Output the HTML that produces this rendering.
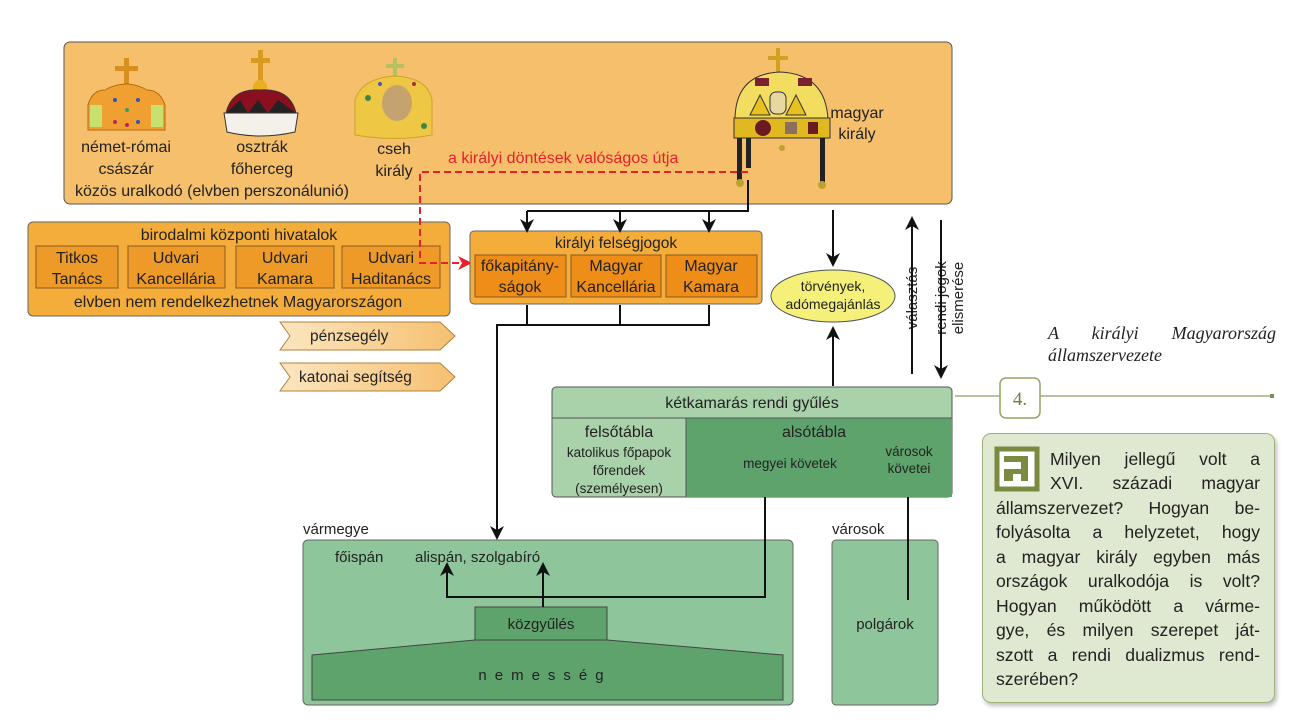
<!DOCTYPE html>
<html><head><meta charset="utf-8"><style>
html,body{margin:0;padding:0;background:#fff;}
body{width:1304px;height:724px;position:relative;overflow:hidden;font-family:"Liberation Sans",sans-serif;}
svg{position:absolute;left:0;top:0;}
.q{position:absolute;left:982px;top:433px;width:293px;height:270px;box-sizing:border-box;background:#dfe8d0;border:1.5px solid #9fb27a;border-radius:9px;box-shadow:2px 3px 4px rgba(0,0,0,0.25);}
.ln{position:absolute;left:996px;width:264px;font-size:17.6px;line-height:22px;color:#222;text-align:justify;text-align-last:justify;white-space:nowrap;}
.ln.i{left:1050px;width:210px;}
.ln.l{text-align-last:left;}
.cap{position:absolute;left:1048px;top:322px;width:228px;font-family:"Liberation Serif",serif;font-style:italic;font-size:18px;line-height:23px;color:#222;text-align:justify;text-align-last:justify;}
.cap2{position:absolute;left:1048px;top:345px;font-family:"Liberation Serif",serif;font-style:italic;font-size:18px;color:#222;}
</style></head><body>
<svg width="1304" height="724" viewBox="0 0 1304 724" font-family="Liberation Sans, sans-serif">
<defs>
<marker id="ab" markerWidth="14" markerHeight="14" refX="12" refY="7" orient="auto" markerUnits="userSpaceOnUse"><path d="M0,0 L14,7 L0,14 L4,7 z" fill="#111"/></marker>
<marker id="ar" markerWidth="14" markerHeight="14" refX="12" refY="7" orient="auto" markerUnits="userSpaceOnUse"><path d="M0,0 L14,7 L0,14 L4,7 z" fill="#e8202a"/></marker>
<linearGradient id="chev" x1="0" x2="1"><stop offset="0" stop-color="#fbe6c0"/><stop offset="1" stop-color="#f6c070"/></linearGradient>
</defs>
<rect x="64" y="42" width="888" height="162" rx="6" fill="#f6bf6c" stroke="#555" stroke-width="1"/>
<g>
<rect x="124" y="58" width="5" height="30" fill="#d98f20"/><rect x="115" y="66" width="23" height="5" fill="#d98f20"/>
<path d="M88,130 L88,105 Q92,90 105,90 Q126,78 147,90 Q160,90 165,105 L165,130 z" fill="#f0a030" stroke="#b86a10"/>
<rect x="90" y="105" width="12" height="22" fill="#c8e070"/><rect x="151" y="105" width="12" height="22" fill="#c8e070"/>
<circle cx="115" cy="100" r="2" fill="#3050c0"/><circle cx="127" cy="110" r="2" fill="#30a060"/><circle cx="138" cy="100" r="2" fill="#3050c0"/><circle cx="115" cy="122" r="2" fill="#c02060"/><circle cx="138" cy="122" r="2" fill="#3050c0"/><circle cx="127" cy="125" r="2" fill="#c02060"/>
</g>
<g>
<rect x="258" y="50" width="5" height="32" fill="#d99a20"/><rect x="251" y="58" width="19" height="5" fill="#d99a20"/>
<circle cx="260" cy="87" r="7" fill="#e8b020"/>
<path d="M226,113 Q232,88 260,90 Q290,88 296,113 z" fill="#8a1020" stroke="#333"/>
<path d="M226,113 L240,100 L248,113 L258,100 L268,113 L278,100 L296,113 z" fill="#222"/>
<path d="M224,113 L298,113 L295,132 Q260,140 227,132 z" fill="#f4f0ea" stroke="#333"/>
</g>
<g opacity="0.9">
<rect x="393" y="58" width="4" height="22" fill="#b0c060"/><rect x="386" y="64" width="18" height="4" fill="#b0c060"/>
<path d="M355,135 L355,100 Q362,78 395,76 Q428,78 432,100 L432,135 Q395,142 355,135 z" fill="#eec840" stroke="#c9a020"/>
<ellipse cx="397" cy="103" rx="15" ry="18" fill="#c0a070"/>
<circle cx="368" cy="98" r="3" fill="#2a8040"/><circle cx="424" cy="126" r="3" fill="#2a8040"/><circle cx="380" cy="84" r="2" fill="#3050c0"/><circle cx="414" cy="84" r="2" fill="#a02040"/>
</g>
<g>
<rect x="776" y="48" width="4" height="24" fill="#d0a020"/><rect x="768" y="56" width="20" height="4" fill="#d0a020"/>
<path d="M735,120 Q735,74 780,72 Q826,74 828,120 z" fill="#f3dd60" stroke="#333"/>
<path d="M750,115 L760,95 L770,115 z M786,115 L796,95 L806,115 z" fill="#e8c020" stroke="#333"/>
<rect x="770" y="92" width="16" height="22" rx="6" fill="#e8d8a0" stroke="#333"/>
<rect x="755" y="78" width="14" height="8" fill="#7a2030"/><rect x="798" y="78" width="14" height="8" fill="#7a2030"/>
<rect x="734" y="118" width="96" height="20" fill="#e0b820" stroke="#333"/>
<circle cx="763" cy="128" r="8" fill="#6a1a20"/><rect x="785" y="122" width="12" height="12" fill="#8a7060"/><rect x="808" y="122" width="10" height="12" fill="#6a1a20"/>
<rect x="737" y="138" width="5" height="42" fill="#222"/><rect x="746" y="138" width="5" height="30" fill="#222"/><rect x="820" y="138" width="5" height="44" fill="#222"/>
<circle cx="740" cy="183" r="4" fill="#c0a030"/><circle cx="822" cy="185" r="4" fill="#c0a030"/><circle cx="782" cy="148" r="3" fill="#c0a030"/>
</g>
<g font-size="16" fill="#222" text-anchor="middle">
<text x="126" y="152">német-római</text><text x="126" y="174">császár</text>
<text x="262" y="152">osztrák</text><text x="262" y="174">főherceg</text>
<text x="394" y="154">cseh</text><text x="394" y="176">király</text>
<text x="857" y="118">magyar</text><text x="857" y="139">király</text>
</g>
<text x="75" y="196" font-size="16" fill="#222">közös uralkodó (elvben perszonálunió)</text>
<text x="448" y="163" font-size="16" fill="#e8202a">a királyi döntések valóságos útja</text>
<rect x="28" y="222" width="422" height="94" rx="5" fill="#f4ad3a" stroke="#666"/>
<text x="239" y="240" font-size="16" text-anchor="middle" fill="#222">birodalmi központi hivatalok</text>
<g fill="#ee9a28" stroke="#8a5a20">
<rect x="36" y="246" width="82" height="42"/><rect x="128" y="246" width="97" height="42"/><rect x="236" y="246" width="98" height="42"/><rect x="342" y="246" width="98" height="42"/>
</g>
<g font-size="16" fill="#222" text-anchor="middle">
<text x="77" y="263">Titkos</text><text x="77" y="284">Tanács</text>
<text x="176" y="263">Udvari</text><text x="176" y="284">Kancellária</text>
<text x="285" y="263">Udvari</text><text x="285" y="284">Kamara</text>
<text x="391" y="263">Udvari</text><text x="391" y="284">Haditanács</text>
</g>
<text x="238" y="307" font-size="16" text-anchor="middle" fill="#222">elvben nem rendelkezhetnek  Magyarországon</text>
<path d="M748,172 L420,172 L420,263 L470,263" fill="none" stroke="#e8202a" stroke-width="2" stroke-dasharray="7,4" marker-end="url(#ar)"/>
<rect x="470" y="231" width="292" height="73" rx="4" fill="#f4ad3a" stroke="#666"/>
<text x="616" y="248" font-size="15.5" text-anchor="middle" fill="#222">királyi felségjogok</text>
<g fill="#ee8e18" stroke="#8a5a20"><rect x="475" y="255" width="91" height="42"/><rect x="571" y="255" width="90" height="42"/><rect x="666" y="255" width="91" height="42"/></g>
<g font-size="16" fill="#222" text-anchor="middle">
<text x="520" y="271">főkapitány-</text><text x="520" y="292">ságok</text>
<text x="616" y="271">Magyar</text><text x="616" y="292">Kancellária</text>
<text x="711" y="271">Magyar</text><text x="711" y="292">Kamara</text>
</g>
<path d="M280,322 L440,322 L455,336 L440,350 L280,350 L290,336 z" fill="url(#chev)" stroke="#b08040"/>
<text x="310" y="341" font-size="15.5" fill="#222">pénzsegély</text>
<path d="M280,363 L440,363 L455,377 L440,391 L280,391 L290,377 z" fill="url(#chev)" stroke="#b08040"/>
<text x="299" y="382" font-size="15.5" fill="#222">katonai segítség</text>
<ellipse cx="833" cy="296" rx="62" ry="26" fill="#f5f07a" stroke="#555"/>
<text x="833" y="291" font-size="14" text-anchor="middle" fill="#222">törvények,</text>
<text x="833" y="309" font-size="14" text-anchor="middle" fill="#222">adómegajánlás</text>
<g font-size="15" fill="#222" text-anchor="middle">
<text transform="translate(917,298) rotate(-90)">választás</text>
<text transform="translate(946,298) rotate(-90)">rendi jogok</text>
<text transform="translate(963,298) rotate(-90)">elismerése</text>
</g>
<rect x="552" y="387" width="400" height="110" rx="4" fill="#a9d1aa" stroke="#555"/>
<rect x="686" y="418" width="266" height="79" fill="#5fa36c"/>
<line x1="552" y1="418" x2="952" y2="418" stroke="#555"/>
<line x1="686" y1="418" x2="686" y2="497" stroke="#555"/>
<text x="752" y="408" font-size="16" text-anchor="middle" fill="#222">kétkamarás rendi gyűlés</text>
<g text-anchor="middle" fill="#222">
<text x="619" y="437" font-size="16">felsőtábla</text>
<text x="619" y="457" font-size="13.5">katolikus főpapok</text><text x="619" y="475" font-size="13.5">főrendek</text><text x="619" y="493" font-size="13.5">(személyesen)</text>
<text x="814" y="437" font-size="16">alsótábla</text>
<text x="790" y="468" font-size="13.5">megyei követek</text>
<text x="909" y="456" font-size="13.5">városok</text><text x="909" y="473" font-size="13.5">követei</text>
</g>
<text x="303" y="534" font-size="15" fill="#222">vármegye</text>
<rect x="303" y="540" width="490" height="165" rx="5" fill="#8fc59a" stroke="#666"/>
<text x="335" y="562" font-size="15" fill="#222">főispán</text>
<text x="415" y="562" font-size="15" fill="#222">alispán, szolgabíró</text>
<rect x="475" y="607" width="132" height="33" fill="#5fa36c" stroke="#444"/>
<text x="541" y="629" font-size="15" text-anchor="middle" fill="#222">közgyűlés</text>
<path d="M312,655 L475,640 L607,640 L783,655 L783,700 L312,700 z" fill="#5fa36c" stroke="#444"/>
<text x="545" y="680" font-size="15" text-anchor="middle" fill="#222" letter-spacing="8">nemesség</text>
<text x="832" y="534" font-size="15" fill="#222">városok</text>
<rect x="832" y="540" width="106" height="165" rx="4" fill="#8fc59a" stroke="#666"/>
<text x="885" y="629" font-size="15" text-anchor="middle" fill="#222">polgárok</text>
<g stroke="#111" stroke-width="2" fill="none">
<path d="M748,180 L748,211 L527,211"/>
<path d="M527,211 L527,231" marker-end="url(#ab)"/><path d="M620,211 L620,231" marker-end="url(#ab)"/><path d="M709,211 L709,231" marker-end="url(#ab)"/>
<path d="M527,305 L527,325 M620,305 L620,325 M709,305 L709,325 L497,325 L497,520"/><path d="M497,510 L497,538" marker-end="url(#ab)"/>
<path d="M833,210 L833,265" marker-end="url(#ab)"/><path d="M833,386 L833,328" marker-end="url(#ab)"/>
<path d="M912,374 L912,218" marker-end="url(#ab)"/><path d="M941,220 L941,377" marker-end="url(#ab)"/>
<path d="M765,497 L765,597 L447,597 L447,564" marker-end="url(#ab)"/>
<path d="M543,607 L543,564" marker-end="url(#ab)"/>
<path d="M908,497 L908,600"/>
</g>
<line x1="955" y1="396" x2="1272" y2="396" stroke="#9fb27a" stroke-width="1.5"/>
<rect x="1270" y="394" width="4" height="4" fill="#7a9050"/>
<rect x="1000" y="378" width="40" height="40" rx="6" fill="#fff" stroke="#8fa660" stroke-width="1.5"/>
<text x="1020" y="405" font-size="19" font-family="Liberation Serif, serif" text-anchor="middle" fill="#6a8040">4.</text>
</svg>
<div class="cap">A királyi Magyarország</div>
<div class="cap2">államszervezete</div>
<div class="q"></div>
<svg width="1304" height="724" style="pointer-events:none">
<rect x="997" y="449" width="40" height="40" fill="#fff" stroke="#7a8a40" stroke-width="5"/>
<rect x="1004" y="456" width="24" height="25" fill="#7a8a40"/>
<rect x="1004" y="462" width="17" height="7" fill="#fff"/>
<rect x="1013" y="474" width="8" height="9" fill="#fff"/>
</svg>
<div class="ln i" style="top:448px">Milyen jellegű volt a</div>
<div class="ln i" style="top:472px">XVI. századi magyar</div>
<div class="ln" style="top:497px">államszervezet? Hogyan be-</div>
<div class="ln" style="top:521px">folyásolta a helyzetet, hogy</div>
<div class="ln" style="top:546px">a magyar király egyben más</div>
<div class="ln" style="top:570px">országok uralkodója is volt?</div>
<div class="ln" style="top:595px">Hogyan működött a várme-</div>
<div class="ln" style="top:619px">gye, és milyen szerepet ját-</div>
<div class="ln" style="top:644px">szott a rendi dualizmus rend-</div>
<div class="ln l" style="top:668px">szerében?</div>
</body></html>
